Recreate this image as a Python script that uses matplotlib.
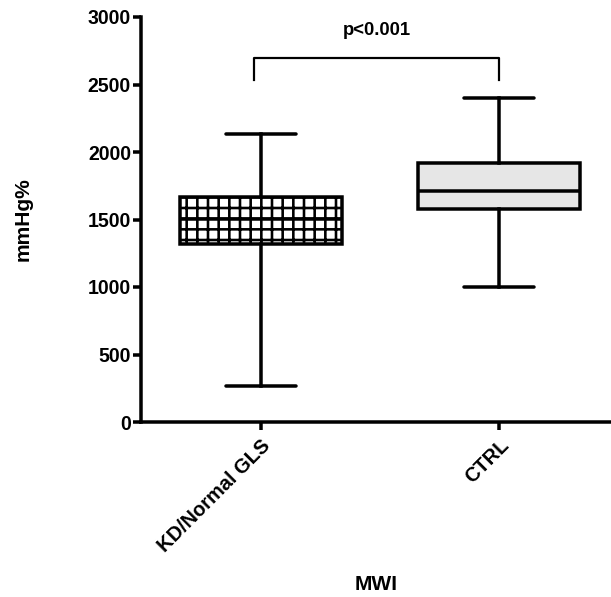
import matplotlib
matplotlib.use("Agg")
import matplotlib.pyplot as plt

# dati (min, Q1, mediana, Q3, max)
gruppi = ["KD/Normal GLS", "CTRL"]
minimi = [268, 1000]
q1 = [1319, 1578]
mediane = [1504, 1711]
q3 = [1667, 1918]
massimi = [2135, 2400]
p_testo = "p<0.001"

DPI = 64  # con questo dpi il tratteggio '+' ha un passo di ~10.7 px


def px(v):
    # pixel -> punti
    return v * 72 / DPI


plt.rcParams['font.family'] = ['Liberation Sans', 'DejaVu Sans']
plt.rcParams['font.weight'] = 'bold'
plt.rcParams['hatch.linewidth'] = px(2.6)

fig = plt.figure(figsize=(611 / DPI, 597 / DPI), dpi=DPI)
ax = fig.add_axes([141 / 611, 1 - 422 / 597, 1 - 141 / 611, (422 - 17) / 597])

stats = []
for nome, lo, a, m, b, hi in zip(gruppi, minimi, q1, mediane, q3, massimi):
    stats.append(dict(label=nome, whislo=lo, q1=a, med=m, q3=b, whishi=hi, fliers=[]))

lw = px(3.5)
bp = ax.bxp(stats, positions=[1, 2], widths=0.677, capwidths=0.294,
            patch_artist=True, showfliers=False,
            boxprops=dict(linewidth=lw, edgecolor='black'),
            medianprops=dict(linewidth=lw, color='black'),
            whiskerprops=dict(linewidth=lw, color='black'),
            capprops=dict(linewidth=lw, color='black', solid_capstyle='round'))

bp['boxes'][0].set_facecolor('white')
bp['boxes'][0].set_hatch('+')
bp['boxes'][1].set_facecolor('#e6e6e6')

ax.set_xlim(0.496, 2.47)
ax.set_ylim(0, 3000)
ax.set_yticks(range(0, 3001, 500))
ax.spines['top'].set_visible(False)
ax.spines['right'].set_visible(False)
ax.spines['left'].set_linewidth(px(3.5))
ax.spines['bottom'].set_linewidth(px(3.5))
ax.tick_params(width=px(3.5), length=px(8), labelsize=px(19.5), pad=px(2))
ax.set_xticks([1, 2])
ax.set_xticklabels(gruppi, rotation=45, ha='right', rotation_mode='anchor',
                   fontsize=px(20))
ax.tick_params(axis='x', pad=px(6))

ax.set_ylabel("mmHg%", fontsize=px(21), fontweight='bold')
ax.yaxis.set_label_coords(-(141 - 23) / 470, 0.5)
ax.set_xlabel("MWI", fontsize=px(21), fontweight='bold')
ax.xaxis.set_label_coords(0.5, -(584 - 422) / 405)
ax.xaxis.label.set_va('center')
ax.yaxis.label.set_va('center')

# parentesi di significatività
y_b, y_t = 2530, 2700
ax.plot([0.97, 0.97, 2.0, 2.0], [y_b, y_t, y_t, y_b], color='black', lw=px(2.2),
        clip_on=False, solid_joinstyle='round')
ax.text((0.97 + 2.0) / 2, 2900, p_testo, ha='center', va='center', fontsize=px(18.5),
        fontweight='bold')

fig.savefig("out.png", dpi=DPI)
